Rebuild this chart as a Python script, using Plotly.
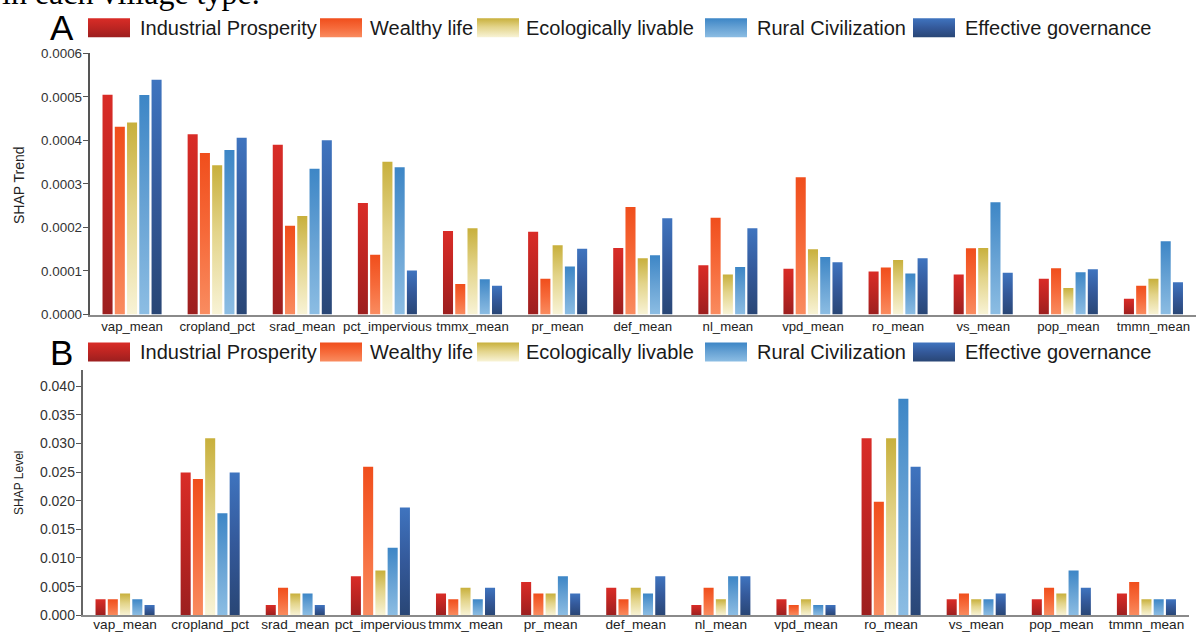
import json
import plotly.graph_objects as go

# ---- data -------------------------------------------------------------
categories = ["vap_mean", "cropland_pct", "srad_mean", "pct_impervious", "tmmx_mean",
              "pr_mean", "def_mean", "nl_mean", "vpd_mean", "ro_mean", "vs_mean",
              "pop_mean", "tmmn_mean"]

series_names = ["Industrial Prosperity", "Wealthy life", "Ecologically livable",
                "Rural Civilization", "Effective governance"]

# Panel A: SHAP trend
trend_industrial = [0.000505, 0.000414, 0.000390, 0.000256, 0.000192, 0.000190, 0.000153,
                    0.000113, 0.000105, 0.000099, 0.000092, 0.000082, 0.000036]
trend_wealthy = [0.000431, 0.000371, 0.000204, 0.000137, 0.000070, 0.000082, 0.000247,
                 0.000222, 0.000315, 0.000108, 0.000152, 0.000106, 0.000066]
trend_ecological = [0.000441, 0.000343, 0.000226, 0.000351, 0.000198, 0.000159, 0.000129,
                    0.000092, 0.000150, 0.000125, 0.000153, 0.000061, 0.000082]
trend_rural = [0.000504, 0.000378, 0.000335, 0.000338, 0.000081, 0.000110, 0.000136,
               0.000109, 0.000132, 0.000094, 0.000258, 0.000097, 0.000168]
trend_governance = [0.000539, 0.000406, 0.000400, 0.000101, 0.000066, 0.000151, 0.000221,
                    0.000198, 0.000120, 0.000129, 0.000096, 0.000104, 0.000074]

# Panel B: SHAP level
level_industrial = [0.0028, 0.0249, 0.0018, 0.0068, 0.0038, 0.0058, 0.0048, 0.0018, 0.0028,
                    0.0309, 0.0028, 0.0028, 0.0038]
level_wealthy = [0.0028, 0.0238, 0.0048, 0.0259, 0.0028, 0.0038, 0.0028, 0.0048, 0.0018,
                 0.0198, 0.0038, 0.0048, 0.0058]
level_ecological = [0.0038, 0.0309, 0.0038, 0.0078, 0.0048, 0.0038, 0.0048, 0.0028, 0.0028,
                    0.0309, 0.0028, 0.0038, 0.0028]
level_rural = [0.0028, 0.0178, 0.0038, 0.0118, 0.0028, 0.0068, 0.0038, 0.0068, 0.0018,
               0.0378, 0.0028, 0.0078, 0.0028]
level_governance = [0.0018, 0.0249, 0.0018, 0.0188, 0.0048, 0.0038, 0.0068, 0.0068, 0.0018,
                    0.0259, 0.0038, 0.0048, 0.0028]

trend_ticks = [0, 0.0001, 0.0002, 0.0003, 0.0004, 0.0005, 0.0006]
level_ticks = [0, 0.005, 0.010, 0.015, 0.020, 0.025, 0.030, 0.035, 0.040]

trend_values = [trend_industrial, trend_wealthy, trend_ecological, trend_rural, trend_governance]
level_values = [level_industrial, level_wealthy, level_ecological, level_rural, level_governance]

# ---- styling ----------------------------------------------------------
# key colour of each series and its vertical gradient (offset 0 = bottom, 1 = top)
base_colors = [(212, 42, 38), (240, 78, 28), (201, 178, 62), (62, 136, 198), (62, 114, 190)]
gradients = [
    [(0, "#9c1f1f"), (0.5, "#bd2522"), (1, "#d92c27")],
    [(0, "#f98c60"), (0.5, "#f66a3a"), (1, "#f04e1c")],
    [(0, "#f8f3d6"), (0.55, "#e3d48a"), (1, "#c8b03c")],
    [(0, "#8cbde3"), (0.5, "#67a2d4"), (1, "#3d86c6")],
    [(0, "#294675"), (0.5, "#34599a"), (1, "#3f74bf")],
]

W, H = 1196, 635
FONT = "Liberation Sans, Arial, sans-serif"


def rgb(c):
    return "rgb(%d,%d,%d)" % c


def px(x):
    return x / W


def py(y):
    return 1 - y / H


fig = go.Figure()
for i, name in enumerate(series_names):
    fig.add_trace(go.Bar(x=categories, y=trend_values[i], name=name,
                         marker=dict(color=rgb(base_colors[i]), line=dict(width=0)),
                         xaxis="x", yaxis="y", showlegend=False))
for i, name in enumerate(series_names):
    fig.add_trace(go.Bar(x=categories, y=level_values[i], name=name,
                         marker=dict(color=rgb(base_colors[i]), line=dict(width=0)),
                         xaxis="x2", yaxis="y2", showlegend=False))

axis_common = dict(showgrid=False, zeroline=False, showline=True, automargin=False)

fig.update_layout(
    width=W, height=H,
    margin=dict(l=0, r=0, t=0, b=0, pad=0),
    paper_bgcolor="white", plot_bgcolor="white",
    font=dict(family=FONT, color="#333333"),
    barmode="group", bargap=0.28, bargroupgap=0.18,
    showlegend=False,
    xaxis=dict(domain=[px(89.5), 1], anchor="y", linecolor="#8a8a8a", linewidth=2,
               ticks="", tickangle=0, ticklabelstandoff=-1,
               tickfont=dict(size=13.2, color="#222222"), **axis_common),
    yaxis=dict(domain=[py(314.5), py(53.3)], anchor="x", range=[0, 0.0006],
               tickvals=trend_ticks, tickformat=".4f", ticks="outside", ticklen=5,
               tickcolor="#555555", linecolor="#555555", linewidth=1.5, ticklabelstandoff=-2,
               tickfont=dict(size=13.4, color="#333333"), **axis_common),
    xaxis2=dict(domain=[px(82.5), px(1189)], anchor="y2", linecolor="#8a8a8a", linewidth=2,
                ticks="", tickangle=0, ticklabelstandoff=-5,
                tickfont=dict(size=13.6, color="#222222"), **axis_common),
    yaxis2=dict(domain=[py(615.3), py(370)], anchor="x2", range=[0, 0.0428],
                tickvals=level_ticks, tickformat=".3f", ticks="outside", ticklen=5,
                tickcolor="#555555", linecolor="#666666", linewidth=1.5, ticklabelstandoff=-2,
                tickfont=dict(size=14, color="#333333"), **axis_common),
)

annotations = []
shapes = []

# caption line running in from above the figure
annotations.append(dict(text="in each village type.", x=0, y=py(13), xref="paper", yref="paper",
                        xanchor="left", yanchor="bottom", showarrow=False,
                        font=dict(family="Liberation Serif, Times New Roman, serif",
                                  size=32, color="#000000")))

# axis titles
annotations.append(dict(text="SHAP Trend", x=px(19), y=py(185), xref="paper", yref="paper",
                        xanchor="center", yanchor="middle",
                        textangle=-90, showarrow=False, font=dict(size=14, color="#222222")))
annotations.append(dict(text="SHAP Level", x=px(18.5), y=py(483.5), xref="paper", yref="paper",
                        xanchor="center", yanchor="middle",
                        textangle=-90, showarrow=False, font=dict(size=12, color="#222222")))

# panel letters and hand-built legends
swatch_x = [88, 320, 477, 705, 913]
text_x = [138, 368, 524, 755, 963]
for letter, cy in (("A", 27.8), ("B", 352)):
    annotations.append(dict(text=letter, x=px(61.5), y=py(cy), xref="paper", yref="paper",
                            xanchor="center", yanchor="middle", showarrow=False,
                            font=dict(size=35, color="#000000")))
    for i, name in enumerate(series_names):
        shapes.append(dict(type="rect", xref="paper", yref="paper",
                           x0=px(swatch_x[i]), x1=px(swatch_x[i] + 42),
                           y0=py(cy + 9.5), y1=py(cy - 9.5),
                           fillcolor=rgb(base_colors[i]), line=dict(width=0)))
        annotations.append(dict(text=name, x=px(text_x[i]), y=py(cy), xref="paper", yref="paper",
                                xanchor="left", yanchor="middle", showarrow=False,
                                font=dict(size=20, color="#1a1a1a")))

fig.update_layout(annotations=annotations, shapes=shapes)

# vertical colour gradients applied to every bar and legend swatch
grad_map = {}
for i, c in enumerate(base_colors):
    grad_map[rgb(c)] = {"id": "barfade%d" % i, "stops": [[o, col] for o, col in gradients[i]]}

post_script = """
var gd = document.getElementById('{plot_id}');
var grads = %s;
var ns = 'http://www.w3.org/2000/svg';
var holder = document.createElementNS(ns, 'svg');
holder.setAttribute('width', '0'); holder.setAttribute('height', '0');
holder.style.position = 'absolute';
var defs = document.createElementNS(ns, 'defs');
holder.appendChild(defs);
document.body.appendChild(holder);
Object.keys(grads).forEach(function (k) {
  var g = grads[k];
  var lg = document.createElementNS(ns, 'linearGradient');
  lg.setAttribute('id', g.id);
  lg.setAttribute('x1', '0'); lg.setAttribute('y1', '1');
  lg.setAttribute('x2', '0'); lg.setAttribute('y2', '0');
  g.stops.forEach(function (s) {
    var st = document.createElementNS(ns, 'stop');
    st.setAttribute('offset', s[0]);
    st.setAttribute('stop-color', s[1]);
    lg.appendChild(st);
  });
  defs.appendChild(lg);
});
function paintBars() {
  gd.querySelectorAll('path').forEach(function (p) {
    var f = (p.style.fill || '').replace(/\\s/g, '');
    if (grads[f]) { p.style.fill = 'url(#' + grads[f].id + ')'; }
  });
}
paintBars();
gd.on('plotly_afterplot', paintBars);
""" % json.dumps(grad_map)

fig.write_html("out.html", post_script=post_script)
